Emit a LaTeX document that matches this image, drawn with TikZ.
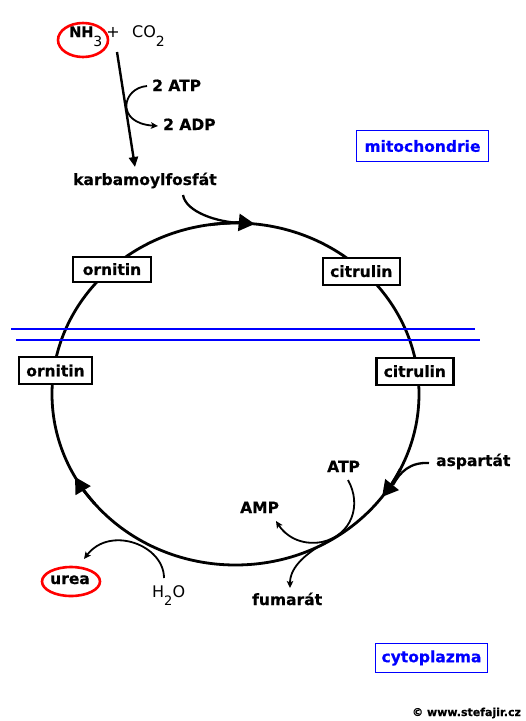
\documentclass[tikz,border=0pt]{standalone}
\usepackage{fontspec}
\setmainfont{DejaVu Sans}[BoldFeatures={FakeBold=0.5}]
\usetikzlibrary{arrows.meta}
\begin{document}
\begin{tikzpicture}[x=1pt,y=-1pt,
  bt/.style={font=\fontsize{15.5}{18}\selectfont\bfseries, inner sep=0pt},
  rt/.style={font=\fontsize{16}{18}\selectfont, inner sep=0pt},
  boxnode/.style={bt, draw=black, line width=2.4pt, fill=white},
  bluebox/.style={bt, text=blue, draw=blue, line width=1.3pt},
  cyc/.style={line width=2.8pt},
  flow/.style={line width=1.8pt, -{Stealth[length=7pt,width=6.5pt,inset=1.5pt]}},
  feed/.style={line width=2.3pt},
  bigtip/.style={line width=2.8pt, -{Triangle[length=16pt,width=17pt]}},
  memb/.style={blue, line width=2pt},
  ring/.style={red, line width=2.6pt}]

\useasboundingbox (0,0) rectangle (526,721);
\fill[white] (0,0) rectangle (526,721);

% cycle
\coordinate (c) at (235.5,394);
\draw[cyc] (c) ellipse [x radius=183.5, y radius=171];

% arrow heads on the cycle
\coordinate (tA) at (210.0,224.7);
\coordinate (tL) at (94.9,503.9);
\coordinate (tR) at (400.4,469.0);
\draw[bigtip] (tA) arc[start angle=262, end angle=276, x radius=183.5, y radius=171];
\draw[bigtip] (tL) arc[start angle=140, end angle=151, x radius=183.5, y radius=171];
\draw[bigtip] (tR) arc[start angle=26, end angle=37, x radius=183.5, y radius=171];

% membrane
\coordinate (m1a) at (11,328.5); \coordinate (m1b) at (475,328.5);
\coordinate (m2a) at (16,339.5); \coordinate (m2b) at (480,339.5);
\draw[memb] (m1a) -- (m1b);
\draw[memb] (m2a) -- (m2b);

% boxes on the cycle
\node[boxnode, minimum width=78, minimum height=25] (ornM) at (112,269.2) {ornitin};
\node[boxnode, minimum width=77, minimum height=27] (citM) at (361.3,271.2) {citrulin};
\node[boxnode, minimum width=73, minimum height=27] (ornC) at (55.5,370.5) {ornitin};
\node[boxnode, minimum width=77, minimum height=27] (citC) at (414.8,371.2) {citrulin};

% compartments
\node[bluebox, minimum width=132, minimum height=31] (mito) at (422.5,146) {mitochondrie};
\node[bluebox, minimum width=112, minimum height=29] (cyto) at (431.5,658) {cytoplazma};

% top reaction
\node[bt, font=\fontsize{14.5}{18}\selectfont\bfseries, anchor=base west] (nh3) at (69,37) {NH\raisebox{-9pt}{\fontsize{14}{14}\selectfont\mdseries 3}};
\node[rt, anchor=base] (plus) at (113,37) {+};
\node[rt, anchor=base west] (co2) at (132,37) {CO\raisebox{-9pt}{\fontsize{14}{14}\selectfont 2}};
\coordinate (nhc) at (83,40);
\draw[ring] (nhc) ellipse [x radius=25, y radius=17];

\node[bt, anchor=base west] (atp2) at (152,91) {2 ATP};
\node[bt, anchor=base west] (adp2) at (163,130) {2 ADP};
\node[bt, anchor=base west] (karb) at (73,185) {karbamoylfosfát};

\coordinate (mainS) at (117,52);
\coordinate (mainE) at (135,167);
\draw[line width=2.4pt, -{Triangle[length=10pt,width=9pt]}] (mainS) -- (mainE);

\coordinate (atpS) at (147,86);
\coordinate (adpE) at (158,126);
\draw[flow] (atpS) .. controls (122,88) and (115,123) .. (adpE);

\coordinate (karbS) at (183,195);
\coordinate (karbE) at (241.9,223.1);
\draw[feed] (karbS) .. controls (186,212) and (217,222.3) .. (karbE);

% bottom right reactions
\node[bt, anchor=base west] (atp) at (327,472) {ATP};
\node[bt, anchor=base west] (asp) at (436,466) {aspartát};
\node[bt, anchor=base west] (amp) at (240,513) {AMP};
\node[bt, anchor=base west] (fum) at (252,605) {fumarát};

\coordinate (aspS) at (429,463);
\coordinate (aspE) at (393,485);
\draw[feed] (aspS) .. controls (410,462) and (400,472) .. (aspE);

\coordinate (atpS1) at (348,480);
\coordinate (atpM) at (322,542);
\coordinate (ampE) at (276,521);
\draw[flow] (atpS1) .. controls (362,505) and (352,535) .. (atpM) .. controls (300,546) and (285,535) .. (ampE);

\coordinate (fumS) at (328,541);
\coordinate (fumE) at (290,588);
\draw[flow] (fumS) .. controls (308,552) and (290,566) .. (fumE);

% bottom left
\node[bt, anchor=base] (urea) at (70,584) {urea};
\coordinate (ureac) at (71,581.5);
\draw[ring] (ureac) ellipse [x radius=29, y radius=14.5];
\node[rt, anchor=base west] (h2o) at (152,597) {H\raisebox{-8pt}{\fontsize{13}{13}\selectfont 2}O};
\coordinate (h2oS) at (164,578);
\coordinate (ureaE) at (84,559);
\draw[flow] (h2oS) .. controls (164,545) and (110,525) .. (ureaE);

% copyright
\node[font=\fontsize{11}{13}\selectfont\bfseries, inner sep=0pt, anchor=base west] (copy) at (412,716) {© www.stefajir.cz};
\end{tikzpicture}
\end{document}
